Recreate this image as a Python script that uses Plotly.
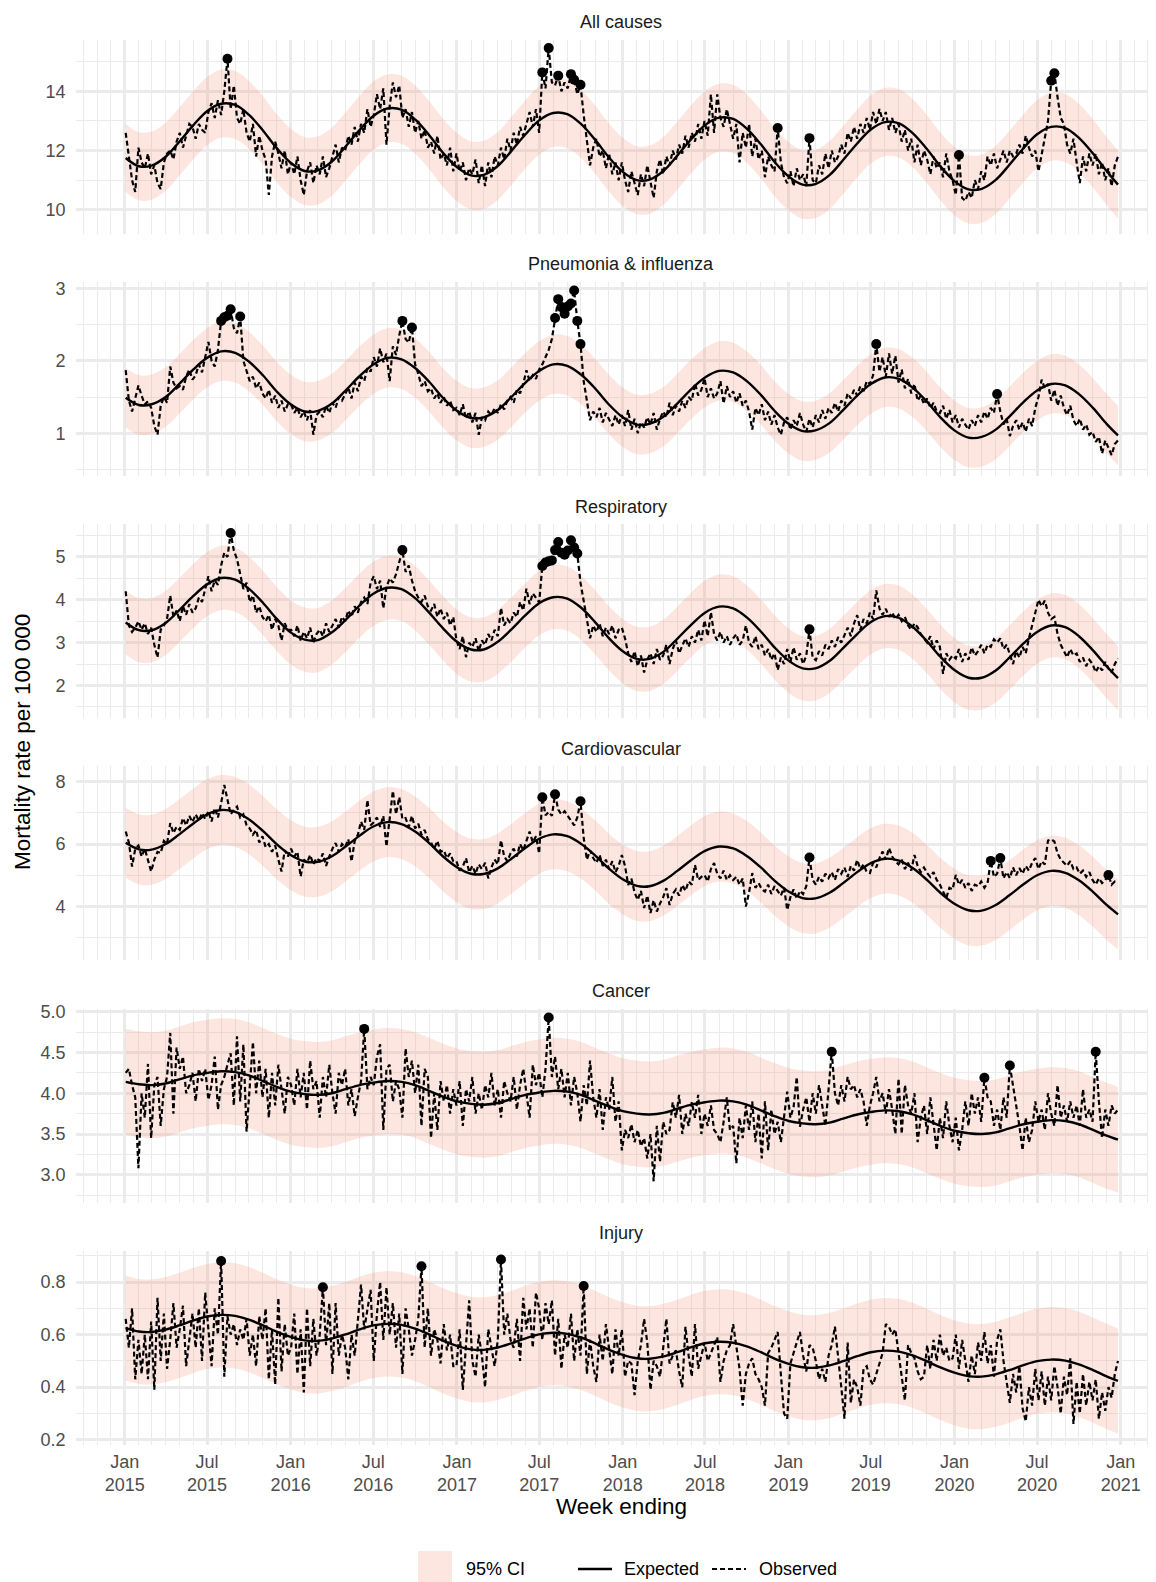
import pandas as pd
import plotly.graph_objects as go

# ---------------- data ----------------
panel_titles = ["All causes", "Pneumonia & influenza", "Respiratory",
                "Cardiovascular", "Cancer", "Injury"]

# observed weekly rates (week ending Saturday, 2015-01-03 ... 2020-12-26)
obs_all = [
    # 2015
    12.6, 11.8, 11.0, 10.6, 12.1, 11.6, 11.4, 11.9, 11.2, 11.5, 10.9, 10.7, 11.6,
    11.9, 12.0, 11.7, 12.3, 12.6, 12.1, 12.5, 12.9, 12.8, 12.4, 12.9, 12.7, 12.6,
    13.3, 13.6, 13.1, 13.7, 13.2, 14.0, 15.1, 13.4, 14.2, 13.1, 12.9, 13.4, 12.6,
    12.3, 12.9, 11.8, 12.5, 12.0, 11.7, 10.5, 11.8, 12.3, 11.9, 11.4, 12.0, 11.2,
    # 2016
    11.6, 11.2, 11.8, 11.0, 10.5, 11.3, 11.6, 10.9, 11.5, 11.2, 11.8, 11.1, 11.4,
    11.8, 12.2, 11.6, 12.1, 12.0, 12.5, 12.2, 12.8, 12.3, 12.9, 12.6, 13.4, 12.8,
    13.2, 13.9, 13.4, 14.1, 12.2, 13.5, 14.3, 13.8, 14.2, 13.1, 13.4, 12.8, 13.3,
    12.6, 13.0, 12.4, 12.7, 12.1, 12.3, 11.9, 12.5, 11.7, 11.9, 11.5, 12.1, 11.3,
    # 2017
    11.9, 11.3, 11.6, 11.0, 11.4, 11.2, 11.7, 10.9, 11.5, 10.8, 11.6, 11.1, 11.8,
    11.5, 12.1, 11.7, 12.4, 12.0, 12.6, 12.2, 12.8, 12.5, 12.9, 13.3, 12.8, 13.4,
    12.6, 14.64, 14.1, 15.46, 14.3, 14.2, 14.53, 14.0, 14.3, 14.1, 14.58, 14.39, 13.9,
    14.22, 13.2, 12.3, 11.5, 12.1, 12.4, 11.8, 12.0, 11.4, 11.9, 11.2, 11.6, 11.0,
    # 2018
    11.6, 11.0, 10.6, 11.3, 10.9, 10.5, 11.2, 10.8, 11.5, 11.0, 10.4, 11.3, 11.7,
    11.2, 11.8, 11.5, 12.0, 11.7, 12.2, 11.9, 12.5, 12.1, 12.6, 12.3, 12.9, 12.4,
    13.0, 12.5, 13.9, 12.6, 13.9, 13.1, 12.8, 13.4, 12.9, 12.4, 12.9, 11.6, 12.6,
    12.1, 12.9, 11.8, 12.4, 11.7, 12.0, 11.1, 11.8, 11.5, 11.3, 12.76, 11.6, 11.1,
    # 2019
    10.9, 11.3, 10.8, 11.4, 11.0, 11.2, 10.8, 12.42, 11.0, 10.9, 11.5, 11.2, 11.9,
    11.4, 12.0, 11.6, 11.8, 12.2, 11.9, 12.6, 12.3, 12.8, 12.4, 12.9, 12.6, 13.1,
    12.7, 13.3, 12.9, 13.4, 13.0, 13.3, 12.7, 13.1, 12.6, 12.9, 12.3, 12.7, 12.0,
    12.4, 11.6, 12.2, 11.5, 12.0, 11.7, 11.2, 11.8, 11.4, 11.6, 11.1, 11.9, 11.3,
    # 2020
    11.0, 10.5, 11.85, 10.4, 10.3, 10.6, 10.4, 11.0, 10.7, 11.3, 11.0, 11.8, 11.5,
    11.9, 11.4, 11.7, 12.0, 11.6, 12.0, 11.8, 11.9, 12.2, 11.9, 12.5, 12.1, 11.8,
    12.0, 11.3, 11.9, 12.4, 13.0, 14.36, 14.61, 13.8, 13.1, 12.9, 12.2, 11.9, 12.4,
    11.6, 10.9, 11.8, 11.3, 11.9, 11.5, 11.9, 11.2, 11.6, 11.0, 11.4, 10.8, 11.5, 11.8,
]

obs_pi = [
    # 2015
    1.87, 1.45, 1.30, 1.48, 1.66, 1.52, 1.40, 1.44, 1.35, 1.10, 0.98, 1.38, 1.50,
    1.42, 1.92, 1.70, 1.62, 1.65, 1.60, 1.78, 1.88, 1.74, 1.80, 1.95, 1.84, 2.05,
    2.26, 2.00, 1.92, 2.15, 2.55, 2.60, 2.62, 2.71, 2.45, 2.38, 2.61, 2.00, 1.85,
    1.72, 1.78, 1.62, 1.70, 1.55, 1.48, 1.60, 1.42, 1.52, 1.35, 1.45, 1.30, 1.40,
    # 2016
    1.40, 1.28, 1.35, 1.22, 1.30, 1.18, 1.32, 0.98, 1.25, 1.30, 1.22, 1.38, 1.28,
    1.42, 1.35, 1.50, 1.45, 1.55, 1.63, 1.48, 1.70, 1.58, 1.78, 1.72, 1.90, 1.85,
    2.05, 1.92, 2.17, 1.98, 2.10, 1.72, 2.20, 2.08, 2.35, 2.55, 2.30, 2.25, 2.46,
    1.95, 1.82, 1.65, 1.72, 1.58, 1.62, 1.48, 1.55, 1.42, 1.50, 1.38, 1.45, 1.32,
    # 2017
    1.35, 1.25, 1.40, 1.20, 1.30, 1.15, 1.28, 0.98, 1.22, 1.18, 1.30, 1.25, 1.35,
    1.28, 1.40, 1.33, 1.45, 1.50, 1.42, 1.60, 1.55, 1.68, 1.87, 1.72, 1.80, 1.75,
    1.88, 1.95, 2.05, 2.15, 2.30, 2.59, 2.85, 2.74, 2.65, 2.75, 2.79, 2.97, 2.55,
    2.23, 1.72, 1.45, 1.18, 1.30, 1.22, 1.35, 1.15, 1.28, 1.20, 1.10, 1.25, 1.12,
    # 2018
    1.25, 1.10, 1.32, 1.05, 1.20, 1.00, 1.15, 1.08, 1.22, 1.12, 1.28, 1.05, 1.20,
    1.30, 1.22, 1.42, 1.25, 1.38, 1.30, 1.45, 1.35, 1.50, 1.45, 1.69, 1.52, 1.60,
    1.76, 1.50, 1.62, 1.48, 1.55, 1.72, 1.41, 1.65, 1.50, 1.58, 1.42, 1.55, 1.38,
    1.45, 1.30, 1.05, 1.35, 1.25, 1.40, 1.18, 1.30, 1.12, 1.25, 1.08, 0.98, 1.15,
    # 2019
    1.22, 1.05, 1.18, 1.10, 1.28, 1.12, 1.02, 1.20, 1.08, 1.25, 1.15, 1.32, 1.20,
    1.35, 1.28, 1.42, 1.30, 1.45, 1.38, 1.55, 1.48, 1.60, 1.52, 1.65, 1.58, 1.72,
    1.68, 1.80, 2.23, 1.85, 2.05, 1.78, 2.10, 1.82, 2.07, 1.70, 1.88, 1.62, 1.75,
    1.55, 1.68, 1.45, 1.52, 1.40, 1.48, 1.35, 1.42, 1.30, 1.28, 1.38, 1.20, 1.32,
    # 2020
    1.15, 1.25, 1.08, 1.20, 1.12, 1.05, 1.18, 1.10, 1.25, 1.15, 1.30, 1.20, 1.35,
    1.28, 1.54, 1.30, 1.12, 1.20, 0.96, 1.10, 1.18, 1.05, 1.15, 1.02, 1.20, 1.10,
    1.35, 1.50, 1.74, 1.62, 1.68, 1.45, 1.60, 1.38, 1.52, 1.35, 1.25, 1.38, 1.18,
    1.10, 1.20, 1.05, 1.12, 0.98, 1.02, 0.88, 0.95, 0.72, 0.90, 0.80, 0.70, 0.85, 0.90,
]

obs_resp = [
    # 2015
    4.20, 3.40, 3.25, 3.35, 3.50, 3.30, 3.45, 3.20, 3.35, 2.95, 2.65, 3.30, 3.40,
    3.55, 4.10, 3.60, 3.75, 3.50, 3.85, 3.65, 3.90, 3.70, 3.80, 4.05, 3.95, 4.25,
    4.55, 4.20, 4.45, 4.35, 4.80, 5.10, 5.00, 5.56, 5.15, 4.95, 4.60, 4.25, 4.40,
    3.95, 4.10, 3.70, 3.85, 3.60, 3.50, 3.65, 3.30, 3.55, 3.40, 3.05, 3.45, 3.30,
    # 2016
    3.30, 3.15, 3.40, 3.05, 3.25, 3.10, 3.35, 3.00, 3.20, 3.30, 3.15, 3.45, 3.25,
    3.40, 3.55, 3.35, 3.60, 3.50, 3.75, 3.60, 3.85, 3.70, 3.95, 4.05, 3.90, 4.40,
    4.55, 4.25, 4.45, 3.80, 4.30, 4.50, 4.40, 4.60, 4.85, 5.16, 4.65, 4.80, 4.45,
    4.20, 4.05, 3.95, 4.10, 3.85, 3.75, 3.90, 3.60, 3.80, 3.55, 3.70, 3.40, 3.60,
    # 2017
    3.05, 2.85, 3.15, 2.66, 3.00, 2.90, 3.10, 2.80, 3.05, 2.95, 3.20, 3.05, 3.30,
    3.15, 3.81, 3.40, 3.55, 3.45, 3.70, 3.60, 3.95, 3.75, 4.26, 3.90, 4.15, 4.05,
    3.94, 4.79, 4.87, 4.90, 4.92, 5.16, 5.35, 5.10, 5.05, 5.15, 5.39, 5.22, 5.08,
    4.40, 4.00, 3.55, 3.10, 3.40, 3.25, 3.45, 3.15, 3.35, 3.20, 3.40, 3.10, 3.30,
    # 2018
    3.35, 3.10, 2.75, 2.55, 2.80, 2.45, 2.70, 2.30, 2.60, 2.75, 2.50, 2.85, 2.60,
    2.70, 2.95, 2.50, 2.85, 3.05, 2.75, 2.95, 3.10, 2.90, 3.15, 3.00, 3.30, 3.05,
    3.52, 3.15, 3.71, 3.20, 3.05, 3.25, 3.00, 3.15, 2.95, 3.10, 3.20, 2.95, 3.05,
    3.40, 3.00, 2.90, 3.15, 2.85, 2.95, 2.70, 2.85, 2.60, 2.75, 2.36, 2.65, 2.50,
    # 2019
    2.85, 2.55, 2.89, 2.60, 2.75, 2.50, 2.70, 3.31, 2.65, 2.59, 2.80, 2.70, 2.95,
    2.85, 3.05, 2.90, 3.13, 3.00, 3.20, 3.35, 3.15, 3.45, 3.64, 3.30, 3.55, 3.45,
    3.70, 3.55, 4.22, 3.80, 3.65, 3.79, 3.60, 3.70, 3.55, 3.65, 3.50, 3.60, 3.40,
    3.30, 3.45, 3.36, 3.20, 3.10, 3.00, 3.15, 2.85, 3.05, 2.90, 2.27, 2.75, 2.60,
    # 2020
    2.70, 2.63, 2.85, 2.55, 2.75, 2.60, 2.89, 2.70, 2.80, 2.95, 2.75, 2.95, 2.90,
    3.08, 3.00, 3.10, 2.85, 2.95, 2.70, 2.50, 2.80, 2.65, 2.90, 2.75, 3.10, 3.40,
    3.75, 4.00, 3.85, 3.98, 3.70, 3.55, 3.60, 3.20, 2.95, 2.80, 2.66, 2.85, 2.70,
    2.75, 2.55, 2.65, 2.45, 2.60, 2.50, 2.31, 2.45, 2.35, 2.55, 2.40, 2.30, 2.50, 2.63,
]

obs_cvd = [
    # 2015
    6.40, 6.05, 5.28, 5.85, 5.95, 5.60, 5.85, 5.45, 5.12, 5.50, 5.75, 5.71, 6.10,
    6.00, 6.67, 6.35, 6.55, 6.45, 6.83, 6.60, 6.90, 6.70, 6.95, 6.75, 6.99, 6.80,
    7.05, 6.72, 7.15, 6.85, 7.30, 7.89, 7.40, 6.95, 7.10, 7.20, 6.85, 6.95, 6.60,
    6.50, 6.30, 6.45, 6.05, 6.25, 5.90, 6.00, 5.75, 5.95, 5.50, 5.12, 5.80, 5.60,
    # 2016
    5.85, 5.60, 5.75, 4.96, 5.50, 5.40, 5.65, 5.35, 5.55, 5.45, 5.70, 5.30, 5.60,
    5.85, 6.03, 5.75, 6.00, 5.90, 6.15, 5.44, 6.10, 6.30, 6.72, 6.45, 7.41, 6.60,
    6.70, 6.85, 6.55, 6.90, 5.92, 6.75, 7.70, 6.95, 7.50, 6.80, 6.83, 6.55, 6.90,
    6.50, 6.65, 6.30, 6.45, 6.15, 6.05, 5.85, 6.10, 5.75, 5.80, 5.55, 5.70, 5.45,
    # 2017
    5.45, 5.15, 5.28, 5.55, 5.10, 5.30, 5.05, 5.35, 5.20, 5.40, 4.90, 5.25, 5.50,
    5.35, 6.12, 5.60, 5.45, 5.70, 5.85, 5.60, 6.00, 5.80, 6.10, 6.40, 6.05, 6.25,
    5.70, 7.50, 6.92, 7.03, 6.90, 7.59, 7.10, 6.95, 7.05, 6.90, 6.75, 6.60, 6.85,
    7.37, 6.20, 5.50, 5.80, 5.55, 5.40, 5.65, 5.30, 5.50, 5.20, 5.45, 5.10, 5.30,
    # 2018
    5.65, 5.30, 4.69, 4.90, 4.45, 4.21, 4.50, 3.95, 4.35, 3.79, 4.20, 3.84, 4.10,
    4.30, 4.59, 4.05, 4.40, 4.55, 4.35, 4.69, 4.50, 4.80, 4.70, 5.33, 4.85, 4.95,
    5.01, 4.80, 5.20, 5.39, 5.05, 4.90, 5.15, 4.85, 5.00, 4.85, 4.95, 4.70, 4.90,
    4.00, 4.45, 5.07, 4.60, 4.75, 4.55, 4.48, 4.70, 4.40, 4.65, 4.50, 4.35, 4.60,
    # 2019
    3.89, 4.30, 4.55, 4.25, 4.50, 4.40, 4.65, 5.57, 4.85, 4.70, 4.95, 4.80, 5.05,
    4.91, 5.10, 4.85, 5.20, 5.05, 5.25, 4.95, 5.30, 5.15, 5.49, 5.20, 5.35, 5.10,
    5.07, 5.40, 5.25, 5.55, 5.76, 5.50, 5.87, 5.60, 5.45, 5.35, 5.50, 5.20, 5.40,
    5.15, 5.65, 5.30, 5.10, 5.25, 5.07, 4.95, 5.10, 4.85, 4.70, 4.48, 4.27, 4.60,
    # 2020
    4.55, 5.01, 4.70, 4.85, 4.60, 4.75, 4.50, 4.70, 4.65, 4.80, 4.60, 4.75, 5.46,
    4.95, 5.05, 5.55, 4.90, 5.10, 4.91, 5.25, 5.00, 5.23, 5.05, 5.30, 5.15, 5.40,
    5.55, 5.20, 5.45, 5.35, 6.11, 6.15, 6.08, 5.70, 5.50, 5.40, 5.30, 5.45, 5.20,
    5.25, 5.05, 5.15, 4.95, 5.10, 4.85, 4.70, 4.90, 4.75, 4.85, 5.01, 4.70, 4.80, 4.76,
]

obs_can = [
    # 2015
    4.25, 4.30, 4.10, 3.95, 3.08, 4.00, 3.70, 4.36, 3.45, 4.10, 4.20, 3.60, 4.05,
    4.20, 4.74, 3.75, 4.56, 4.30, 4.45, 4.00, 4.10, 4.25, 3.90, 4.30, 4.15, 4.30,
    3.92, 4.10, 4.45, 3.80, 4.10, 4.20, 4.35, 4.49, 3.85, 4.70, 3.90, 4.60, 3.53,
    4.10, 4.63, 4.00, 4.40, 3.95, 4.30, 3.70, 4.25, 3.85, 4.35, 4.05, 3.75, 4.20,
    # 2016
    4.10, 3.85, 4.30, 3.95, 4.25, 3.80, 4.40, 4.05, 4.15, 3.70, 4.20, 3.95, 4.35,
    4.00, 3.75, 4.25, 4.10, 4.30, 3.85, 4.05, 3.72, 3.95, 4.15, 4.79, 4.05, 4.20,
    4.10, 4.45, 4.60, 3.55, 4.30, 4.35, 3.90, 4.15, 4.05, 3.70, 4.55, 4.20, 4.40,
    4.00, 4.35, 3.60, 4.30, 4.20, 3.45, 4.00, 3.55, 4.15, 3.90, 4.10, 3.75, 4.05,
    # 2017
    3.85, 4.15, 3.60, 4.05, 3.90, 4.20, 3.75, 4.00, 3.80, 4.10, 3.95, 4.25, 3.85,
    4.05, 3.70, 4.15, 4.00, 3.90, 4.20, 3.80, 4.10, 4.30, 4.00, 3.70, 4.35, 4.10,
    4.25, 3.95, 4.30, 4.93, 4.20, 4.45, 4.05, 4.30, 3.95, 4.25, 3.85, 4.20, 4.00,
    3.65, 4.10, 3.85, 4.40, 3.95, 3.70, 4.05, 3.55, 3.95, 3.80, 4.20, 3.65, 3.90,
    # 2018
    3.30, 3.55, 3.45, 3.62, 3.40, 3.55, 3.35, 3.45, 3.20, 3.50, 2.92, 3.60, 3.16,
    3.65, 3.50, 3.55, 3.89, 3.70, 3.98, 3.50, 3.75, 3.60, 3.89, 3.70, 3.98, 3.50,
    3.75, 3.60, 3.85, 3.55, 3.50, 3.40, 3.65, 3.95, 3.55, 3.60, 3.14, 3.70, 3.45,
    3.85, 3.55, 3.90, 3.40, 3.75, 3.20, 3.90, 3.30, 3.80, 3.50, 3.65, 3.40, 3.70,
    # 2019
    4.02, 3.70, 3.83, 4.20, 3.59, 3.80, 3.95, 3.65, 4.00, 3.75, 4.10, 3.85, 3.60,
    4.05, 4.51, 4.00, 3.85, 4.10, 3.90, 4.20, 4.05, 4.10, 3.95, 4.05, 3.90, 3.60,
    3.85, 4.00, 4.20, 3.90, 4.00, 3.75, 4.05, 3.80, 3.50, 4.18, 3.50, 4.10, 3.85,
    3.75, 4.00, 3.40, 3.70, 3.85, 3.50, 3.95, 3.65, 3.30, 3.70, 3.45, 3.90, 3.60,
    # 2020
    3.40, 3.70, 3.30, 3.55, 3.90, 3.60, 4.00, 3.75, 3.95, 3.65, 4.19, 3.95, 3.90,
    3.60, 3.80, 3.55, 3.95, 3.70, 4.34, 4.10, 3.85, 3.60, 3.30, 3.70, 3.40, 3.55,
    3.90, 3.65, 3.80, 3.55, 4.00, 3.75, 3.60, 4.10, 3.70, 3.85, 3.65, 3.90, 3.70,
    3.85, 3.60, 4.05, 3.70, 3.80, 3.65, 4.51, 3.90, 3.45, 3.80, 3.60, 3.85, 3.75, 3.80,
]

obs_inj = [
    # 2015
    0.66, 0.55, 0.70, 0.43, 0.58, 0.45, 0.60, 0.43, 0.65, 0.39, 0.74, 0.50, 0.68,
    0.47, 0.58, 0.72, 0.55, 0.62, 0.71, 0.48, 0.58, 0.68, 0.55, 0.70, 0.50, 0.76,
    0.62, 0.48, 0.70, 0.60, 0.88, 0.44, 0.67, 0.60, 0.64, 0.56, 0.62, 0.58, 0.66,
    0.52, 0.60, 0.48, 0.67, 0.58, 0.70, 0.43, 0.62, 0.41, 0.74, 0.46, 0.64, 0.52,
    # 2016
    0.55, 0.68, 0.45, 0.62, 0.38, 0.70, 0.48, 0.66, 0.52, 0.60, 0.78, 0.56, 0.72,
    0.45, 0.72, 0.52, 0.60, 0.55, 0.43, 0.60, 0.52, 0.66, 0.79, 0.62, 0.70, 0.77,
    0.50, 0.68, 0.80, 0.58, 0.78, 0.60, 0.72, 0.55, 0.68, 0.45, 0.70, 0.62, 0.52,
    0.58, 0.66, 0.86, 0.55, 0.70, 0.52, 0.62, 0.58, 0.49, 0.64, 0.54, 0.60, 0.48,
    # 2017
    0.48, 0.62, 0.39, 0.56, 0.73, 0.50, 0.44, 0.60, 0.52, 0.40, 0.62, 0.55, 0.48,
    0.58, 0.886, 0.60, 0.68, 0.58, 0.55, 0.66, 0.50, 0.74, 0.62, 0.70, 0.55, 0.76,
    0.70, 0.58, 0.72, 0.64, 0.73, 0.52, 0.66, 0.47, 0.60, 0.55, 0.68, 0.50, 0.62,
    0.52, 0.785, 0.45, 0.58, 0.48, 0.42, 0.60, 0.50, 0.64, 0.55, 0.45, 0.62, 0.52,
    # 2018
    0.62, 0.44, 0.50, 0.49, 0.37, 0.50, 0.56, 0.66, 0.57, 0.39, 0.50, 0.48, 0.44,
    0.55, 0.66, 0.49, 0.52, 0.54, 0.46, 0.40, 0.63, 0.52, 0.44, 0.64, 0.47, 0.52,
    0.57, 0.50, 0.53, 0.56, 0.59, 0.42, 0.50, 0.54, 0.56, 0.64, 0.55, 0.47, 0.33,
    0.45, 0.49, 0.51, 0.45, 0.43, 0.40, 0.33, 0.53, 0.55, 0.58, 0.61, 0.45, 0.30,
    # 2019
    0.28, 0.49, 0.53, 0.57, 0.61, 0.52, 0.46, 0.56, 0.55, 0.50, 0.43, 0.47, 0.42,
    0.52, 0.56, 0.63, 0.50, 0.40, 0.28, 0.57, 0.34, 0.43, 0.40, 0.33, 0.47, 0.48,
    0.43, 0.41, 0.45, 0.49, 0.53, 0.64, 0.63, 0.60, 0.62, 0.53, 0.43, 0.35, 0.56,
    0.53, 0.51, 0.46, 0.43, 0.44, 0.56, 0.47, 0.58, 0.50, 0.60, 0.52, 0.55, 0.50,
    # 2020
    0.51, 0.60, 0.47, 0.58, 0.50, 0.42, 0.52, 0.45, 0.57, 0.50, 0.61, 0.49, 0.56,
    0.44, 0.58, 0.62, 0.50, 0.42, 0.34, 0.45, 0.38, 0.48, 0.32, 0.27, 0.40, 0.33,
    0.47, 0.35, 0.46, 0.33, 0.44, 0.35, 0.48, 0.40, 0.30, 0.44, 0.37, 0.51, 0.26,
    0.42, 0.30, 0.45, 0.33, 0.42, 0.35, 0.43, 0.28, 0.38, 0.31, 0.40, 0.36, 0.45, 0.50,
]

# expected rates, first of each month Jan 2015 ... Dec 2020, plus last week
exp_all = [
    11.75, 11.47, 11.49, 11.79, 12.30, 12.86, 13.33, 13.58, 13.54, 13.21, 12.68, 12.09,
    11.59, 11.31, 11.33, 11.63, 12.14, 12.70, 13.17, 13.42, 13.38, 13.05, 12.52, 11.93,
    11.44, 11.16, 11.18, 11.48, 11.99, 12.55, 13.02, 13.27, 13.23, 12.90, 12.37, 11.78,
    11.28, 11.00, 11.02, 11.32, 11.83, 12.39, 12.86, 13.11, 13.07, 12.74, 12.21, 11.62,
    11.13, 10.85, 10.87, 11.17, 11.68, 12.24, 12.71, 12.96, 12.92, 12.59, 12.06, 11.47,
    10.97, 10.69, 10.71, 11.01, 11.52, 12.08, 12.55, 12.80, 12.76, 12.43, 11.90, 11.31,
    10.85,
]
exp_pi = [
    1.49, 1.39, 1.40, 1.50, 1.68, 1.88, 2.04, 2.13, 2.11, 1.99, 1.80, 1.58,
    1.40, 1.30, 1.31, 1.41, 1.59, 1.79, 1.95, 2.04, 2.02, 1.90, 1.71, 1.49,
    1.31, 1.21, 1.22, 1.32, 1.50, 1.70, 1.86, 1.95, 1.93, 1.81, 1.62, 1.40,
    1.22, 1.12, 1.13, 1.23, 1.41, 1.61, 1.77, 1.86, 1.84, 1.72, 1.53, 1.31,
    1.13, 1.03, 1.04, 1.14, 1.32, 1.52, 1.68, 1.77, 1.75, 1.63, 1.44, 1.22,
    1.04, 0.94, 0.95, 1.05, 1.23, 1.43, 1.59, 1.68, 1.66, 1.54, 1.35, 1.13,
    0.97,
]
exp_resp = [
    3.47, 3.29, 3.29, 3.46, 3.76, 4.09, 4.36, 4.51, 4.47, 4.26, 3.93, 3.56,
    3.24, 3.07, 3.06, 3.24, 3.53, 3.87, 4.14, 4.28, 4.25, 4.04, 3.70, 3.34,
    3.02, 2.84, 2.84, 3.02, 3.31, 3.64, 3.92, 4.06, 4.03, 3.82, 3.48, 3.11,
    2.80, 2.62, 2.62, 2.79, 3.09, 3.42, 3.70, 3.84, 3.80, 3.59, 3.26, 2.89,
    2.58, 2.40, 2.40, 2.57, 2.87, 3.20, 3.48, 3.62, 3.58, 3.37, 3.04, 2.67,
    2.36, 2.18, 2.18, 2.35, 2.65, 2.98, 3.25, 3.40, 3.36, 3.15, 2.82, 2.45,
    2.17,
]
exp_cvd = [
    6.04, 5.83, 5.82, 6.00, 6.31, 6.66, 6.95, 7.09, 7.03, 6.79, 6.42, 6.00,
    5.65, 5.44, 5.43, 5.61, 5.92, 6.27, 6.56, 6.70, 6.64, 6.40, 6.03, 5.61,
    5.26, 5.05, 5.04, 5.22, 5.53, 5.88, 6.17, 6.31, 6.25, 6.01, 5.64, 5.22,
    4.87, 4.66, 4.65, 4.83, 5.14, 5.49, 5.78, 5.92, 5.86, 5.62, 5.25, 4.83,
    4.48, 4.27, 4.26, 4.44, 4.75, 5.10, 5.39, 5.53, 5.47, 5.23, 4.86, 4.44,
    4.09, 3.88, 3.87, 4.05, 4.36, 4.71, 5.00, 5.14, 5.08, 4.84, 4.47, 4.05,
    3.75,
]
exp_can = [
    4.14, 4.11, 4.10, 4.12, 4.17, 4.22, 4.25, 4.27, 4.26, 4.22, 4.15, 4.08,
    4.02, 3.99, 3.98, 4.00, 4.05, 4.10, 4.13, 4.15, 4.14, 4.10, 4.03, 3.96,
    3.90, 3.87, 3.86, 3.88, 3.93, 3.98, 4.01, 4.03, 4.02, 3.98, 3.91, 3.84,
    3.78, 3.75, 3.74, 3.76, 3.81, 3.86, 3.89, 3.91, 3.90, 3.86, 3.79, 3.72,
    3.66, 3.63, 3.62, 3.64, 3.69, 3.74, 3.77, 3.79, 3.78, 3.74, 3.67, 3.60,
    3.54, 3.51, 3.50, 3.52, 3.57, 3.62, 3.65, 3.67, 3.66, 3.62, 3.55, 3.48,
    3.43,
]
exp_inj = [
    0.625, 0.612, 0.610, 0.619, 0.635, 0.654, 0.669, 0.675, 0.671, 0.657, 0.635, 0.611,
    0.591, 0.578, 0.576, 0.585, 0.601, 0.620, 0.635, 0.641, 0.637, 0.623, 0.601, 0.577,
    0.557, 0.544, 0.542, 0.551, 0.567, 0.586, 0.601, 0.607, 0.603, 0.589, 0.567, 0.543,
    0.523, 0.510, 0.508, 0.517, 0.533, 0.552, 0.567, 0.573, 0.569, 0.555, 0.533, 0.509,
    0.489, 0.476, 0.474, 0.483, 0.499, 0.518, 0.533, 0.539, 0.535, 0.521, 0.499, 0.475,
    0.455, 0.442, 0.440, 0.449, 0.465, 0.484, 0.499, 0.505, 0.501, 0.487, 0.465, 0.441,
    0.424,
]

# half-width of the 95% CI around the expected rate
ci_half = [1.15, 0.41, 0.75, 1.12, 0.65, 0.20]

# weeks (index into the weekly series) flagged as above the 95% CI
flags_all = [32, 131, 133, 136, 140, 141, 143, 205, 215, 262, 291, 292]
flags_pi = [30, 31, 32, 33, 36, 87, 90, 135, 136, 137, 138, 139, 140, 141, 142, 143, 236, 274]
flags_resp = [33, 87, 131, 132, 133, 134, 135, 136, 137, 138, 139, 140, 141, 142, 215]
flags_cvd = [131, 135, 143, 215, 272, 275, 309]
flags_can = [75, 133, 222, 270, 278, 305]
flags_inj = [30, 62, 93, 118, 144]

x_tick_labels = ["Jan<br>2015", "Jul<br>2015", "Jan<br>2016", "Jul<br>2016",
                 "Jan<br>2017", "Jul<br>2017", "Jan<br>2018", "Jul<br>2018",
                 "Jan<br>2019", "Jul<br>2019", "Jan<br>2020", "Jul<br>2020",
                 "Jan<br>2021"]

observed = [obs_all, obs_pi, obs_resp, obs_cvd, obs_can, obs_inj]
expected = [exp_all, exp_pi, exp_resp, exp_cvd, exp_can, exp_inj]
flags = [flags_all, flags_pi, flags_resp, flags_cvd, flags_can, flags_inj]

weeks = pd.date_range("2015-01-03", periods=len(obs_all), freq="7D")
exp_dates = ([pd.Timestamp("2015-01-03")]
             + list(pd.date_range("2015-02-01", "2020-12-01", freq="MS"))
             + [pd.Timestamp("2020-12-26")])
x_tick_vals = list(pd.date_range("2015-01-01", "2021-01-01", freq="6MS"))

# ---------------- layout / style ----------------
W, H = 1156, 1582
OFF = 8.0   # page body margin offset (screen px = figure px + OFF)
FONT = "Liberation Sans, Arial, Helvetica, sans-serif"
GRID = "#EBEBEB"
CI_FILL = "rgba(247,130,100,0.2)"
LEFT_PX = 75.5 - OFF
TOP0, PITCH, PANEL_H = 39.5 - OFF, 242.25, 194.0
X_RANGE = ["2014-09-14 12:00", "2021-04-06 07:00"]


def py(px):
    """screen pixel (from top) -> paper y"""
    return 1 - (px - OFF) / H


def px_(x):
    """screen pixel (from left) -> paper x"""
    return (x - OFF) / W


y_ranges = [[9.20, 15.75], [0.414, 3.09], [1.24, 5.77], [2.28, 8.49], [2.66, 5.04], [0.181, 0.919]]
y_ticks = [(10, 2, 9, 1, None), (1, 1, 0.5, 0.5, None), (2, 1, 1.5, 0.5, None),
           (4, 2, 3, 1, None), (3.0, 0.5, 2.75, 0.25, ".1f"), (0.2, 0.2, 0.1, 0.1, ".1f")]

fig = go.Figure()
annotations = []
DASH = "5px,3px"

for k in range(6):
    suffix = "" if k == 0 else str(k + 1)
    xa, ya = "x" + suffix, "y" + suffix
    lower = [e - ci_half[k] for e in expected[k]]
    upper = [e + ci_half[k] for e in expected[k]]

    fig.add_trace(go.Scatter(x=exp_dates, y=lower, mode="lines",
                             line=dict(width=0, shape="spline", color=CI_FILL),
                             xaxis=xa, yaxis=ya, showlegend=False, hoverinfo="skip"))
    fig.add_trace(go.Scatter(x=exp_dates, y=upper, mode="lines", fill="tonexty",
                             fillcolor=CI_FILL,
                             line=dict(width=0, shape="spline", color=CI_FILL),
                             xaxis=xa, yaxis=ya, showlegend=False, hoverinfo="skip"))
    fig.add_trace(go.Scatter(x=exp_dates, y=expected[k], mode="lines",
                             line=dict(color="black", width=2.4, shape="spline"),
                             xaxis=xa, yaxis=ya, showlegend=False))
    fig.add_trace(go.Scatter(x=weeks, y=observed[k], mode="lines",
                             line=dict(color="black", width=2.2, dash=DASH),
                             xaxis=xa, yaxis=ya, showlegend=False))
    fig.add_trace(go.Scatter(x=[weeks[i] for i in flags[k]],
                             y=[observed[k][i] for i in flags[k]],
                             mode="markers", marker=dict(color="black", size=10),
                             xaxis=xa, yaxis=ya, showlegend=False))

    top = TOP0 + PITCH * k
    bot = top + PANEL_H
    is_bottom = (k == 5)
    fig.layout["xaxis" + suffix] = dict(
        domain=[LEFT_PX / W, 1.0], range=X_RANGE, type="date", anchor=ya,
        tickmode="array", tickvals=x_tick_vals, ticktext=x_tick_labels,
        showticklabels=is_bottom, ticks="", ticklabelstandoff=4,
        tickfont=dict(family=FONT, size=18, color="#4D4D4D"),
        showgrid=True, gridcolor=GRID, gridwidth=2.6,
        minor=dict(tickmode="linear", tick0="2015-01-01", dtick="M1",
                   showgrid=True, gridcolor=GRID, gridwidth=1.3),
        zeroline=False, showline=False, automargin=False,
    )
    t0, dt, mt0, mdt, fmt = y_ticks[k]
    yax = dict(
        domain=[1 - bot / H, 1 - top / H], range=y_ranges[k], anchor=xa,
        tickmode="linear", tick0=t0, dtick=dt, ticks="", ticklabelstandoff=9,
        tickfont=dict(family=FONT, size=18, color="#4D4D4D"),
        showgrid=True, gridcolor=GRID, gridwidth=2.6,
        minor=dict(tickmode="linear", tick0=mt0, dtick=mdt,
                   showgrid=True, gridcolor=GRID, gridwidth=1.3),
        zeroline=False, showline=False, automargin=False,
    )
    if fmt:
        yax["tickformat"] = fmt
    fig.layout["yaxis" + suffix] = yax

    annotations.append(dict(text=panel_titles[k], xref="paper", yref="paper",
                            x=px_(621), y=1 - (top - 17.5) / H,
                            xanchor="center", yanchor="middle", showarrow=False,
                            font=dict(family=FONT, size=18, color="#1A1A1A")))

# axis titles
annotations.append(dict(text="Mortality rate per 100 000", xref="paper", yref="paper",
                        x=px_(22), y=py(742), textangle=-90,
                        xanchor="center", yanchor="middle", showarrow=False,
                        font=dict(family=FONT, size=22.5, color="black")))
annotations.append(dict(text="Week ending", xref="paper", yref="paper",
                        x=px_(621), y=py(1506),
                        xanchor="center", yanchor="middle", showarrow=False,
                        font=dict(family=FONT, size=22.5, color="black")))

# legend (bottom)
LEG_Y = 1569
legend_items = [("95% CI", 464), ("Expected", 622), ("Observed", 757)]
for label, xpx in legend_items:
    annotations.append(dict(text=label, xref="paper", yref="paper",
                            x=px_(xpx), y=py(LEG_Y),
                            xanchor="left", yanchor="middle", showarrow=False,
                            font=dict(family=FONT, size=18, color="black")))

shapes = [
    dict(type="rect", xref="paper", yref="paper",
         x0=px_(418), x1=px_(452), y0=py(1592), y1=py(1551),
         fillcolor=CI_FILL, line=dict(width=0), layer="below"),
    dict(type="line", xref="paper", yref="paper",
         x0=px_(578), x1=px_(612), y0=py(LEG_Y), y1=py(LEG_Y),
         line=dict(color="black", width=2.4)),
    dict(type="line", xref="paper", yref="paper",
         x0=px_(712), x1=px_(746), y0=py(LEG_Y), y1=py(LEG_Y),
         line=dict(color="black", width=2.2, dash=DASH)),
]

fig.update_layout(
    width=W, height=H,
    margin=dict(l=0, r=0, t=0, b=0, pad=0),
    paper_bgcolor="white", plot_bgcolor="white",
    font=dict(family=FONT, size=18, color="black"),
    showlegend=False,
    annotations=annotations,
    shapes=shapes,
)

fig.write_html("out.html")
